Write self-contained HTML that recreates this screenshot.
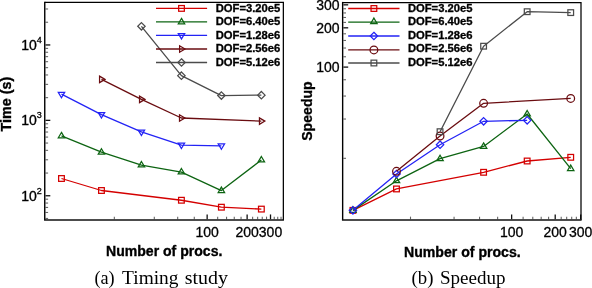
<!DOCTYPE html><html><head><meta charset="utf-8"><style>
html,body{margin:0;padding:0;background:#fff;}
svg{display:block;will-change:transform;}
text{font-family:"Liberation Sans",sans-serif;}
.ser{font-family:"Liberation Serif",serif;}
</style></head><body>
<svg width="592" height="288" viewBox="0 0 592 288">
<rect width="592" height="288" fill="#fff"/>
<line x1="207.15" y1="219.25" x2="207.15" y2="214.45" stroke="#111" stroke-width="1.3"/>
<line x1="247.13" y1="219.25" x2="247.13" y2="214.45" stroke="#111" stroke-width="1.3"/>
<line x1="270.51" y1="219.25" x2="270.51" y2="214.45" stroke="#111" stroke-width="1.3"/>
<line x1="114.33" y1="219.25" x2="114.33" y2="216.65" stroke="#666" stroke-width="1.1"/>
<line x1="154.30" y1="219.25" x2="154.30" y2="216.65" stroke="#666" stroke-width="1.1"/>
<line x1="177.69" y1="219.25" x2="177.69" y2="216.65" stroke="#666" stroke-width="1.1"/>
<line x1="194.28" y1="219.25" x2="194.28" y2="216.65" stroke="#666" stroke-width="1.1"/>
<line x1="217.67" y1="219.25" x2="217.67" y2="216.65" stroke="#666" stroke-width="1.1"/>
<line x1="226.56" y1="219.25" x2="226.56" y2="216.65" stroke="#666" stroke-width="1.1"/>
<line x1="234.26" y1="219.25" x2="234.26" y2="216.65" stroke="#666" stroke-width="1.1"/>
<line x1="241.05" y1="219.25" x2="241.05" y2="216.65" stroke="#666" stroke-width="1.1"/>
<line x1="252.62" y1="219.25" x2="252.62" y2="216.65" stroke="#666" stroke-width="1.1"/>
<line x1="257.64" y1="219.25" x2="257.64" y2="216.65" stroke="#666" stroke-width="1.1"/>
<line x1="262.26" y1="219.25" x2="262.26" y2="216.65" stroke="#666" stroke-width="1.1"/>
<line x1="266.53" y1="219.25" x2="266.53" y2="216.65" stroke="#666" stroke-width="1.1"/>
<line x1="274.23" y1="219.25" x2="274.23" y2="216.65" stroke="#666" stroke-width="1.1"/>
<line x1="277.73" y1="219.25" x2="277.73" y2="216.65" stroke="#666" stroke-width="1.1"/>
<line x1="281.03" y1="219.25" x2="281.03" y2="216.65" stroke="#666" stroke-width="1.1"/>
<line x1="45.50" y1="195.75" x2="50.30" y2="195.75" stroke="#111" stroke-width="1.3"/>
<line x1="45.50" y1="120.35" x2="50.30" y2="120.35" stroke="#111" stroke-width="1.3"/>
<line x1="45.50" y1="44.95" x2="50.30" y2="44.95" stroke="#111" stroke-width="1.3"/>
<line x1="45.50" y1="218.45" x2="48.10" y2="218.45" stroke="#666" stroke-width="1.1"/>
<line x1="45.50" y1="212.48" x2="48.10" y2="212.48" stroke="#666" stroke-width="1.1"/>
<line x1="45.50" y1="207.43" x2="48.10" y2="207.43" stroke="#666" stroke-width="1.1"/>
<line x1="45.50" y1="203.06" x2="48.10" y2="203.06" stroke="#666" stroke-width="1.1"/>
<line x1="45.50" y1="199.20" x2="48.10" y2="199.20" stroke="#666" stroke-width="1.1"/>
<line x1="45.50" y1="173.05" x2="48.10" y2="173.05" stroke="#666" stroke-width="1.1"/>
<line x1="45.50" y1="159.78" x2="48.10" y2="159.78" stroke="#666" stroke-width="1.1"/>
<line x1="45.50" y1="150.35" x2="48.10" y2="150.35" stroke="#666" stroke-width="1.1"/>
<line x1="45.50" y1="143.05" x2="48.10" y2="143.05" stroke="#666" stroke-width="1.1"/>
<line x1="45.50" y1="137.08" x2="48.10" y2="137.08" stroke="#666" stroke-width="1.1"/>
<line x1="45.50" y1="132.03" x2="48.10" y2="132.03" stroke="#666" stroke-width="1.1"/>
<line x1="45.50" y1="127.66" x2="48.10" y2="127.66" stroke="#666" stroke-width="1.1"/>
<line x1="45.50" y1="123.80" x2="48.10" y2="123.80" stroke="#666" stroke-width="1.1"/>
<line x1="45.50" y1="97.65" x2="48.10" y2="97.65" stroke="#666" stroke-width="1.1"/>
<line x1="45.50" y1="84.38" x2="48.10" y2="84.38" stroke="#666" stroke-width="1.1"/>
<line x1="45.50" y1="74.95" x2="48.10" y2="74.95" stroke="#666" stroke-width="1.1"/>
<line x1="45.50" y1="67.65" x2="48.10" y2="67.65" stroke="#666" stroke-width="1.1"/>
<line x1="45.50" y1="61.68" x2="48.10" y2="61.68" stroke="#666" stroke-width="1.1"/>
<line x1="45.50" y1="56.63" x2="48.10" y2="56.63" stroke="#666" stroke-width="1.1"/>
<line x1="45.50" y1="52.26" x2="48.10" y2="52.26" stroke="#666" stroke-width="1.1"/>
<line x1="45.50" y1="48.40" x2="48.10" y2="48.40" stroke="#666" stroke-width="1.1"/>
<line x1="45.50" y1="22.25" x2="48.10" y2="22.25" stroke="#666" stroke-width="1.1"/>
<line x1="45.50" y1="8.98" x2="48.10" y2="8.98" stroke="#666" stroke-width="1.1"/>
<polyline points="61.48,178.50 101.46,190.50 181.41,200.25 221.39,207.20 261.36,209.10" fill="none" stroke="#d40000" stroke-width="1.3" stroke-linejoin="round"/>
<rect x="58.63" y="175.65" width="5.70" height="5.70" fill="none" stroke="#d40000" stroke-width="1.25"/>
<rect x="98.61" y="187.65" width="5.70" height="5.70" fill="none" stroke="#d40000" stroke-width="1.25"/>
<rect x="178.56" y="197.40" width="5.70" height="5.70" fill="none" stroke="#d40000" stroke-width="1.25"/>
<rect x="218.54" y="204.35" width="5.70" height="5.70" fill="none" stroke="#d40000" stroke-width="1.25"/>
<rect x="258.51" y="206.25" width="5.70" height="5.70" fill="none" stroke="#d40000" stroke-width="1.25"/>
<polyline points="61.48,135.90 101.46,152.20 141.43,165.05 181.41,172.05 221.39,190.60 261.36,160.00" fill="none" stroke="#0d6412" stroke-width="1.3" stroke-linejoin="round"/>
<path d="M61.48 132.40L64.68 137.80L58.28 137.80Z" fill="none" stroke="#0d6412" stroke-width="1.25" stroke-linejoin="miter"/>
<path d="M101.46 148.70L104.66 154.10L98.26 154.10Z" fill="none" stroke="#0d6412" stroke-width="1.25" stroke-linejoin="miter"/>
<path d="M141.43 161.55L144.63 166.95L138.23 166.95Z" fill="none" stroke="#0d6412" stroke-width="1.25" stroke-linejoin="miter"/>
<path d="M181.41 168.55L184.61 173.95L178.21 173.95Z" fill="none" stroke="#0d6412" stroke-width="1.25" stroke-linejoin="miter"/>
<path d="M221.39 187.10L224.59 192.50L218.19 192.50Z" fill="none" stroke="#0d6412" stroke-width="1.25" stroke-linejoin="miter"/>
<path d="M261.36 156.50L264.56 161.90L258.16 161.90Z" fill="none" stroke="#0d6412" stroke-width="1.25" stroke-linejoin="miter"/>
<polyline points="61.48,94.20 101.46,114.55 141.43,131.95 181.41,145.05 221.39,145.80" fill="none" stroke="#2323f5" stroke-width="1.3" stroke-linejoin="round"/>
<path d="M61.48 97.70L64.68 92.30L58.28 92.30Z" fill="none" stroke="#2323f5" stroke-width="1.25" stroke-linejoin="miter"/>
<path d="M101.46 118.05L104.66 112.65L98.26 112.65Z" fill="none" stroke="#2323f5" stroke-width="1.25" stroke-linejoin="miter"/>
<path d="M141.43 135.45L144.63 130.05L138.23 130.05Z" fill="none" stroke="#2323f5" stroke-width="1.25" stroke-linejoin="miter"/>
<path d="M181.41 148.55L184.61 143.15L178.21 143.15Z" fill="none" stroke="#2323f5" stroke-width="1.25" stroke-linejoin="miter"/>
<path d="M221.39 149.30L224.59 143.90L218.19 143.90Z" fill="none" stroke="#2323f5" stroke-width="1.25" stroke-linejoin="miter"/>
<polyline points="101.46,79.40 141.43,99.40 181.41,118.00 261.36,121.10" fill="none" stroke="#6a0c10" stroke-width="1.3" stroke-linejoin="round"/>
<path d="M104.96 79.40L99.56 76.20L99.56 82.60Z" fill="none" stroke="#6a0c10" stroke-width="1.25" stroke-linejoin="miter"/>
<path d="M144.93 99.40L139.53 96.20L139.53 102.60Z" fill="none" stroke="#6a0c10" stroke-width="1.25" stroke-linejoin="miter"/>
<path d="M184.91 118.00L179.51 114.80L179.51 121.20Z" fill="none" stroke="#6a0c10" stroke-width="1.25" stroke-linejoin="miter"/>
<path d="M264.86 121.10L259.46 117.90L259.46 124.30Z" fill="none" stroke="#6a0c10" stroke-width="1.25" stroke-linejoin="miter"/>
<polyline points="141.43,26.30 181.41,75.65 221.39,95.55 261.36,95.15" fill="none" stroke="#4b4b4b" stroke-width="1.3" stroke-linejoin="round"/>
<path d="M141.43 22.60L145.13 26.30L141.43 30.00L137.73 26.30Z" fill="none" stroke="#4b4b4b" stroke-width="1.25" stroke-linejoin="miter"/>
<path d="M181.41 71.95L185.11 75.65L181.41 79.35L177.71 75.65Z" fill="none" stroke="#4b4b4b" stroke-width="1.25" stroke-linejoin="miter"/>
<path d="M221.39 91.85L225.09 95.55L221.39 99.25L217.69 95.55Z" fill="none" stroke="#4b4b4b" stroke-width="1.25" stroke-linejoin="miter"/>
<path d="M261.36 91.45L265.06 95.15L261.36 98.85L257.66 95.15Z" fill="none" stroke="#4b4b4b" stroke-width="1.25" stroke-linejoin="miter"/>
<line x1="511.65" y1="219.25" x2="511.65" y2="214.45" stroke="#111" stroke-width="1.3"/>
<line x1="555.21" y1="219.25" x2="555.21" y2="214.45" stroke="#111" stroke-width="1.3"/>
<line x1="580.69" y1="219.25" x2="580.69" y2="214.45" stroke="#111" stroke-width="1.3"/>
<line x1="410.51" y1="219.25" x2="410.51" y2="216.65" stroke="#666" stroke-width="1.1"/>
<line x1="454.07" y1="219.25" x2="454.07" y2="216.65" stroke="#666" stroke-width="1.1"/>
<line x1="479.55" y1="219.25" x2="479.55" y2="216.65" stroke="#666" stroke-width="1.1"/>
<line x1="497.63" y1="219.25" x2="497.63" y2="216.65" stroke="#666" stroke-width="1.1"/>
<line x1="523.11" y1="219.25" x2="523.11" y2="216.65" stroke="#666" stroke-width="1.1"/>
<line x1="532.79" y1="219.25" x2="532.79" y2="216.65" stroke="#666" stroke-width="1.1"/>
<line x1="541.19" y1="219.25" x2="541.19" y2="216.65" stroke="#666" stroke-width="1.1"/>
<line x1="548.59" y1="219.25" x2="548.59" y2="216.65" stroke="#666" stroke-width="1.1"/>
<line x1="561.20" y1="219.25" x2="561.20" y2="216.65" stroke="#666" stroke-width="1.1"/>
<line x1="566.67" y1="219.25" x2="566.67" y2="216.65" stroke="#666" stroke-width="1.1"/>
<line x1="571.70" y1="219.25" x2="571.70" y2="216.65" stroke="#666" stroke-width="1.1"/>
<line x1="576.35" y1="219.25" x2="576.35" y2="216.65" stroke="#666" stroke-width="1.1"/>
<line x1="343.40" y1="67.10" x2="348.20" y2="67.10" stroke="#111" stroke-width="1.3"/>
<line x1="343.40" y1="27.82" x2="348.20" y2="27.82" stroke="#111" stroke-width="1.3"/>
<line x1="343.40" y1="4.84" x2="348.20" y2="4.84" stroke="#111" stroke-width="1.3"/>
<line x1="343.40" y1="158.32" x2="346.00" y2="158.32" stroke="#666" stroke-width="1.1"/>
<line x1="343.40" y1="119.03" x2="346.00" y2="119.03" stroke="#666" stroke-width="1.1"/>
<line x1="343.40" y1="96.05" x2="346.00" y2="96.05" stroke="#666" stroke-width="1.1"/>
<line x1="343.40" y1="79.75" x2="346.00" y2="79.75" stroke="#666" stroke-width="1.1"/>
<line x1="343.40" y1="56.77" x2="346.00" y2="56.77" stroke="#666" stroke-width="1.1"/>
<line x1="343.40" y1="48.03" x2="346.00" y2="48.03" stroke="#666" stroke-width="1.1"/>
<line x1="343.40" y1="40.46" x2="346.00" y2="40.46" stroke="#666" stroke-width="1.1"/>
<line x1="343.40" y1="33.79" x2="346.00" y2="33.79" stroke="#666" stroke-width="1.1"/>
<line x1="343.40" y1="22.41" x2="346.00" y2="22.41" stroke="#666" stroke-width="1.1"/>
<line x1="343.40" y1="17.48" x2="346.00" y2="17.48" stroke="#666" stroke-width="1.1"/>
<line x1="343.40" y1="12.95" x2="346.00" y2="12.95" stroke="#666" stroke-width="1.1"/>
<line x1="343.40" y1="8.75" x2="346.00" y2="8.75" stroke="#666" stroke-width="1.1"/>
<polyline points="352.93,210.35 396.49,188.95 483.60,172.30 527.16,161.00 570.72,157.30" fill="none" stroke="#d40000" stroke-width="1.3" stroke-linejoin="round"/>
<rect x="350.08" y="207.50" width="5.70" height="5.70" fill="none" stroke="#d40000" stroke-width="1.25"/>
<rect x="393.64" y="186.10" width="5.70" height="5.70" fill="none" stroke="#d40000" stroke-width="1.25"/>
<rect x="480.75" y="169.45" width="5.70" height="5.70" fill="none" stroke="#d40000" stroke-width="1.25"/>
<rect x="524.31" y="158.15" width="5.70" height="5.70" fill="none" stroke="#d40000" stroke-width="1.25"/>
<rect x="567.87" y="154.45" width="5.70" height="5.70" fill="none" stroke="#d40000" stroke-width="1.25"/>
<polyline points="352.93,210.35 396.49,180.80 440.05,158.70 483.60,146.40 527.16,114.00 570.72,168.60" fill="none" stroke="#0d6412" stroke-width="1.3" stroke-linejoin="round"/>
<path d="M352.93 206.85L356.13 212.25L349.73 212.25Z" fill="none" stroke="#0d6412" stroke-width="1.25" stroke-linejoin="miter"/>
<path d="M396.49 177.30L399.69 182.70L393.29 182.70Z" fill="none" stroke="#0d6412" stroke-width="1.25" stroke-linejoin="miter"/>
<path d="M440.05 155.20L443.25 160.60L436.85 160.60Z" fill="none" stroke="#0d6412" stroke-width="1.25" stroke-linejoin="miter"/>
<path d="M483.60 142.90L486.80 148.30L480.40 148.30Z" fill="none" stroke="#0d6412" stroke-width="1.25" stroke-linejoin="miter"/>
<path d="M527.16 110.50L530.36 115.90L523.96 115.90Z" fill="none" stroke="#0d6412" stroke-width="1.25" stroke-linejoin="miter"/>
<path d="M570.72 165.10L573.92 170.50L567.52 170.50Z" fill="none" stroke="#0d6412" stroke-width="1.25" stroke-linejoin="miter"/>
<polyline points="352.93,210.35 396.49,174.00 440.05,144.70 483.60,121.30 527.16,120.35" fill="none" stroke="#2323f5" stroke-width="1.3" stroke-linejoin="round"/>
<path d="M352.93 206.65L356.63 210.35L352.93 214.05L349.23 210.35Z" fill="none" stroke="#2323f5" stroke-width="1.25" stroke-linejoin="miter"/>
<path d="M396.49 170.30L400.19 174.00L396.49 177.70L392.79 174.00Z" fill="none" stroke="#2323f5" stroke-width="1.25" stroke-linejoin="miter"/>
<path d="M440.05 141.00L443.75 144.70L440.05 148.40L436.35 144.70Z" fill="none" stroke="#2323f5" stroke-width="1.25" stroke-linejoin="miter"/>
<path d="M483.60 117.60L487.30 121.30L483.60 125.00L479.90 121.30Z" fill="none" stroke="#2323f5" stroke-width="1.25" stroke-linejoin="miter"/>
<path d="M527.16 116.65L530.86 120.35L527.16 124.05L523.46 120.35Z" fill="none" stroke="#2323f5" stroke-width="1.25" stroke-linejoin="miter"/>
<polyline points="396.49,171.30 440.05,136.00 483.60,103.30 570.72,98.45" fill="none" stroke="#6a0c10" stroke-width="1.3" stroke-linejoin="round"/>
<circle cx="396.49" cy="171.30" r="3.85" fill="none" stroke="#6a0c10" stroke-width="1.25"/>
<circle cx="440.05" cy="136.00" r="3.85" fill="none" stroke="#6a0c10" stroke-width="1.25"/>
<circle cx="483.60" cy="103.30" r="3.85" fill="none" stroke="#6a0c10" stroke-width="1.25"/>
<circle cx="570.72" cy="98.45" r="3.85" fill="none" stroke="#6a0c10" stroke-width="1.25"/>
<polyline points="440.05,131.70 483.60,46.20 527.16,11.70 570.72,12.60" fill="none" stroke="#4b4b4b" stroke-width="1.3" stroke-linejoin="round"/>
<rect x="437.20" y="128.85" width="5.70" height="5.70" fill="none" stroke="#4b4b4b" stroke-width="1.25"/>
<rect x="480.75" y="43.35" width="5.70" height="5.70" fill="none" stroke="#4b4b4b" stroke-width="1.25"/>
<rect x="524.31" y="8.85" width="5.70" height="5.70" fill="none" stroke="#4b4b4b" stroke-width="1.25"/>
<rect x="567.87" y="9.75" width="5.70" height="5.70" fill="none" stroke="#4b4b4b" stroke-width="1.25"/>
<path d="M44.75 2.45H283.35V220.0" fill="none" stroke="#000" stroke-width="1.25"/>
<path d="M44.75 1.85V220.0" fill="none" stroke="#000" stroke-width="1.4"/>
<path d="M44.05 220.0H283.95000000000005" fill="none" stroke="#111" stroke-width="1.5"/>
<path d="M342.65 2.5H581.0V220.0" fill="none" stroke="#000" stroke-width="1.25"/>
<path d="M342.65 1.9V220.0" fill="none" stroke="#000" stroke-width="1.4"/>
<path d="M341.95 220.0H581.6" fill="none" stroke="#111" stroke-width="1.5"/>
<line x1="156" y1="8.4" x2="207.1" y2="8.4" stroke="#d40000" stroke-width="1.3"/>
<rect x="178.65" y="5.55" width="5.70" height="5.70" fill="none" stroke="#d40000" stroke-width="1.25"/>
<text x="215.7" y="11.80" font-size="10.1" font-weight="bold" textLength="64.6" lengthAdjust="spacingAndGlyphs" stroke="#000" stroke-width="0.3">DOF=3.20e5</text>
<line x1="156" y1="21.9" x2="207.1" y2="21.9" stroke="#0d6412" stroke-width="1.3"/>
<path d="M181.50 18.40L184.70 23.80L178.30 23.80Z" fill="none" stroke="#0d6412" stroke-width="1.25" stroke-linejoin="miter"/>
<text x="215.7" y="25.25" font-size="10.1" font-weight="bold" textLength="64.6" lengthAdjust="spacingAndGlyphs" stroke="#000" stroke-width="0.3">DOF=6.40e5</text>
<line x1="156" y1="35.4" x2="207.1" y2="35.4" stroke="#2323f5" stroke-width="1.3"/>
<path d="M181.50 38.90L184.70 33.50L178.30 33.50Z" fill="none" stroke="#2323f5" stroke-width="1.25" stroke-linejoin="miter"/>
<text x="215.7" y="38.70" font-size="10.1" font-weight="bold" textLength="64.6" lengthAdjust="spacingAndGlyphs" stroke="#000" stroke-width="0.3">DOF=1.28e6</text>
<line x1="156" y1="49.0" x2="207.1" y2="49.0" stroke="#6a0c10" stroke-width="1.3"/>
<path d="M185.00 49.00L179.60 45.80L179.60 52.20Z" fill="none" stroke="#6a0c10" stroke-width="1.25" stroke-linejoin="miter"/>
<text x="215.7" y="52.15" font-size="10.1" font-weight="bold" textLength="64.6" lengthAdjust="spacingAndGlyphs" stroke="#000" stroke-width="0.3">DOF=2.56e6</text>
<line x1="156" y1="62.5" x2="207.1" y2="62.5" stroke="#4b4b4b" stroke-width="1.3"/>
<path d="M181.50 58.80L185.20 62.50L181.50 66.20L177.80 62.50Z" fill="none" stroke="#4b4b4b" stroke-width="1.25" stroke-linejoin="miter"/>
<text x="215.7" y="65.60" font-size="10.1" font-weight="bold" textLength="64.6" lengthAdjust="spacingAndGlyphs" stroke="#000" stroke-width="0.3">DOF=5.12e6</text>
<line x1="348.2" y1="8.5" x2="399.5" y2="8.5" stroke="#d40000" stroke-width="1.3"/>
<rect x="371.05" y="5.65" width="5.70" height="5.70" fill="none" stroke="#d40000" stroke-width="1.25"/>
<text x="407.9" y="11.80" font-size="10.1" font-weight="bold" textLength="64.6" lengthAdjust="spacingAndGlyphs" stroke="#000" stroke-width="0.3">DOF=3.20e5</text>
<line x1="348.2" y1="22.2" x2="399.5" y2="22.2" stroke="#0d6412" stroke-width="1.3"/>
<path d="M373.90 18.10L377.10 23.50L370.70 23.50Z" fill="none" stroke="#0d6412" stroke-width="1.25" stroke-linejoin="miter"/>
<text x="407.9" y="25.25" font-size="10.1" font-weight="bold" textLength="64.6" lengthAdjust="spacingAndGlyphs" stroke="#000" stroke-width="0.3">DOF=6.40e5</text>
<line x1="348.2" y1="36.0" x2="399.5" y2="36.0" stroke="#2323f5" stroke-width="1.3"/>
<path d="M373.90 32.30L377.60 36.00L373.90 39.70L370.20 36.00Z" fill="none" stroke="#2323f5" stroke-width="1.25" stroke-linejoin="miter"/>
<text x="407.9" y="38.70" font-size="10.1" font-weight="bold" textLength="64.6" lengthAdjust="spacingAndGlyphs" stroke="#000" stroke-width="0.3">DOF=1.28e6</text>
<line x1="348.2" y1="49.9" x2="399.5" y2="49.9" stroke="#6a0c10" stroke-width="1.3"/>
<circle cx="373.90" cy="49.90" r="3.85" fill="none" stroke="#6a0c10" stroke-width="1.25"/>
<text x="407.9" y="52.15" font-size="10.1" font-weight="bold" textLength="64.6" lengthAdjust="spacingAndGlyphs" stroke="#000" stroke-width="0.3">DOF=2.56e6</text>
<line x1="348.2" y1="63.0" x2="399.5" y2="63.0" stroke="#4b4b4b" stroke-width="1.3"/>
<rect x="371.05" y="60.15" width="5.70" height="5.70" fill="none" stroke="#4b4b4b" stroke-width="1.25"/>
<text x="407.9" y="65.60" font-size="10.1" font-weight="bold" textLength="64.6" lengthAdjust="spacingAndGlyphs" stroke="#000" stroke-width="0.3">DOF=5.12e6</text>
<text x="207.15" y="237.2" font-size="14" text-anchor="middle" stroke="#000" stroke-width="0.3">100</text>
<text x="511.65" y="237.2" font-size="14" text-anchor="middle" stroke="#000" stroke-width="0.3">100</text>
<text x="247.13" y="237.2" font-size="14" text-anchor="middle" stroke="#000" stroke-width="0.3">200</text>
<text x="555.21" y="237.2" font-size="14" text-anchor="middle" stroke="#000" stroke-width="0.3">200</text>
<text x="270.51" y="237.2" font-size="14" text-anchor="middle" stroke="#000" stroke-width="0.3">300</text>
<text x="580.69" y="237.2" font-size="14" text-anchor="middle" stroke="#000" stroke-width="0.3">300</text>
<text x="36.9" y="200.60" font-size="14" text-anchor="end" stroke="#000" stroke-width="0.35">10</text>
<text x="36.7" y="193.75" font-size="9" stroke="#000" stroke-width="0.3">2</text>
<text x="36.9" y="125.20" font-size="14" text-anchor="end" stroke="#000" stroke-width="0.35">10</text>
<text x="36.7" y="118.35" font-size="9" stroke="#000" stroke-width="0.3">3</text>
<text x="36.9" y="49.80" font-size="14" text-anchor="end" stroke="#000" stroke-width="0.35">10</text>
<text x="36.7" y="42.95" font-size="9" stroke="#000" stroke-width="0.3">4</text>
<text x="339.6" y="72.05" font-size="14" text-anchor="end" stroke="#000" stroke-width="0.3">100</text>
<text x="339.6" y="32.77" font-size="14" text-anchor="end" stroke="#000" stroke-width="0.3">200</text>
<text x="339.6" y="9.79" font-size="14" text-anchor="end" stroke="#000" stroke-width="0.3">300</text>
<text x="106.0" y="255.8" font-size="14.1" font-weight="bold" textLength="116.4" lengthAdjust="spacingAndGlyphs" stroke="#000" stroke-width="0.35">Number of procs.</text>
<text x="404.0" y="257.4" font-size="14.1" font-weight="bold" textLength="116.7" lengthAdjust="spacingAndGlyphs" stroke="#000" stroke-width="0.35">Number of procs.</text>
<text transform="translate(10.6,104.1) rotate(-90)" x="0" y="0" font-size="14.3" font-weight="bold" text-anchor="middle" stroke="#000" stroke-width="0.35">Time (s)</text>
<text transform="translate(312.3,111.05) rotate(-90)" x="0" y="0" font-size="14.1" font-weight="bold" text-anchor="middle" stroke="#000" stroke-width="0.3">Speedup</text>
<text class="ser" x="94.4" y="283.5" font-size="18" textLength="20.2" lengthAdjust="spacingAndGlyphs">(a)</text>
<text class="ser" x="122.1" y="283.5" font-size="18" textLength="56.4" lengthAdjust="spacingAndGlyphs">Timing</text>
<text class="ser" x="184.8" y="283.5" font-size="18" textLength="43.2" lengthAdjust="spacingAndGlyphs">study</text>
<text class="ser" x="411.5" y="283.6" font-size="18" textLength="21.9" lengthAdjust="spacingAndGlyphs">(b)</text>
<text class="ser" x="439.9" y="283.6" font-size="18" textLength="65.6" lengthAdjust="spacingAndGlyphs">Speedup</text>
</svg></body></html>
